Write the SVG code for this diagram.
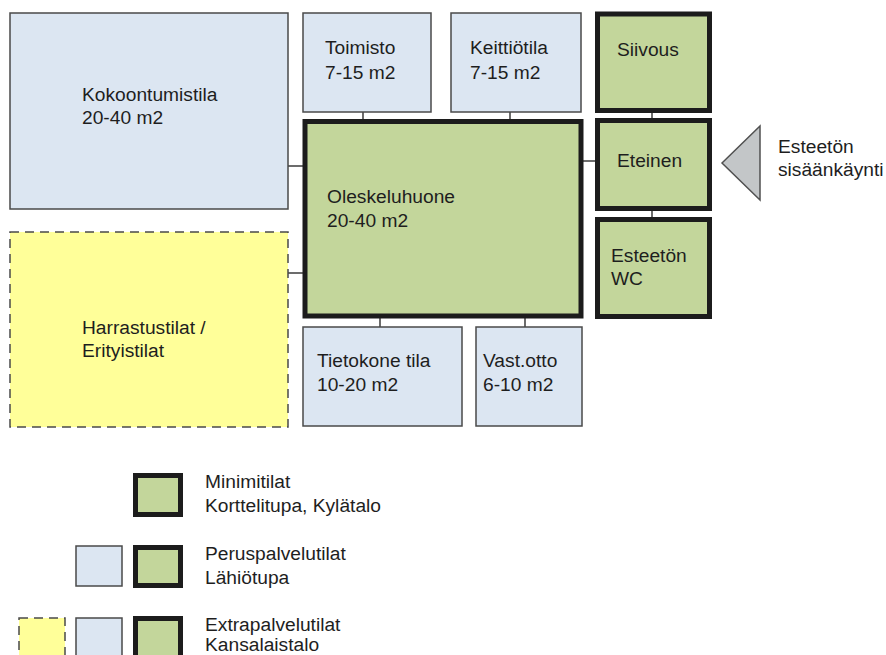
<svg xmlns="http://www.w3.org/2000/svg" width="886" height="655" viewBox="0 0 886 655">
<style>
text{font-family:"Liberation Sans",Arial,sans-serif;font-size:19.2px;fill:#1e1e1e}
.blue{fill:#dce6f2;stroke:#4a4a4a;stroke-width:1.5}
.green{fill:#c3d69b;stroke:#1c1c1c;stroke-width:5}
.yellow{fill:#ffff99;stroke:#4a4a4a;stroke-width:1.5;stroke-dasharray:9 6}
.conn{stroke:#1c1c1c;stroke-width:1.3;fill:none}
</style>
<rect width="886" height="655" fill="#ffffff"/>
<g id="connectors">
<line class="conn" x1="288" y1="166" x2="303" y2="166"/>
<line class="conn" x1="288" y1="273" x2="303" y2="273"/>
<line class="conn" x1="363" y1="112" x2="363" y2="119"/>
<line class="conn" x1="510" y1="112" x2="510" y2="119"/>
<line class="conn" x1="380" y1="318" x2="380" y2="327"/>
<line class="conn" x1="525" y1="318" x2="525" y2="327"/>
<line class="conn" x1="583" y1="161" x2="596" y2="161"/>
<line class="conn" x1="652" y1="112" x2="652" y2="119"/>
<line class="conn" x1="652" y1="210" x2="652" y2="218"/>
</g>
<g id="kokoontumistila">
<rect class="blue" x="10" y="13" width="278" height="196"/>
<text x="82" y="101">Kokoontumistila</text>
<text x="82" y="124">20-40 m2</text>
</g>
<g id="harrastustilat">
<rect class="yellow" x="10" y="232" width="278" height="195"/>
<text x="82" y="334">Harrastustilat /</text>
<text x="82" y="357">Erityistilat</text>
</g>
<g id="toimisto">
<rect class="blue" x="303" y="13" width="128" height="99"/>
<text x="325" y="54">Toimisto</text>
<text x="325" y="79">7-15 m2</text>
</g>
<g id="keittiotila">
<rect class="blue" x="451" y="13" width="130" height="99"/>
<text x="470" y="54">Keittiötila</text>
<text x="470" y="79">7-15 m2</text>
</g>
<g id="oleskeluhuone">
<rect class="green" x="305" y="121.5" width="276" height="194.5"/>
<text x="327" y="203">Oleskeluhuone</text>
<text x="327" y="227">20-40 m2</text>
</g>
<g id="tietokone">
<rect class="blue" x="303" y="327" width="159" height="99"/>
<text x="317" y="367">Tietokone tila</text>
<text x="317" y="391">10-20 m2</text>
</g>
<g id="vastotto">
<rect class="blue" x="476" y="327" width="106" height="99"/>
<text x="483" y="367">Vast.otto</text>
<text x="483" y="391">6-10 m2</text>
</g>
<g id="siivous">
<rect class="green" x="597.5" y="14" width="112" height="96.5"/>
<text x="617" y="56">Siivous</text>
</g>
<g id="eteinen">
<rect class="green" x="597.5" y="120.5" width="112" height="88"/>
<text x="617" y="167">Eteinen</text>
</g>
<g id="wc">
<rect class="green" x="597.5" y="219.5" width="112" height="97"/>
<text x="611" y="262">Esteetön</text>
<text x="611" y="285">WC</text>
</g>
<g id="sisaankaynti">
<polygon points="722,163 760,126 760,200" fill="#c3c6c8" stroke="#505050" stroke-width="1.5"/>
<text x="778" y="153">Esteetön</text>
<text x="778" y="176">sisäänkäynti</text>
</g>
<g id="legend">
<rect class="green" x="135.5" y="475.5" width="45" height="39"/>
<text x="205" y="488">Minimitilat</text>
<text x="205" y="512">Korttelitupa, Kylätalo</text>
<rect class="blue" x="76" y="546" width="46" height="40"/>
<rect class="green" x="135.5" y="547.5" width="45" height="38"/>
<text x="205" y="560">Peruspalvelutilat</text>
<text x="205" y="584">Lähiötupa</text>
<rect class="yellow" x="19" y="618" width="46" height="45"/>
<rect class="blue" x="76" y="618" width="46" height="45"/>
<rect class="green" x="135.5" y="618.5" width="45" height="45"/>
<text x="205" y="631">Extrapalvelutilat</text>
<text x="205" y="651">Kansalaistalo</text>
</g>
</svg>
